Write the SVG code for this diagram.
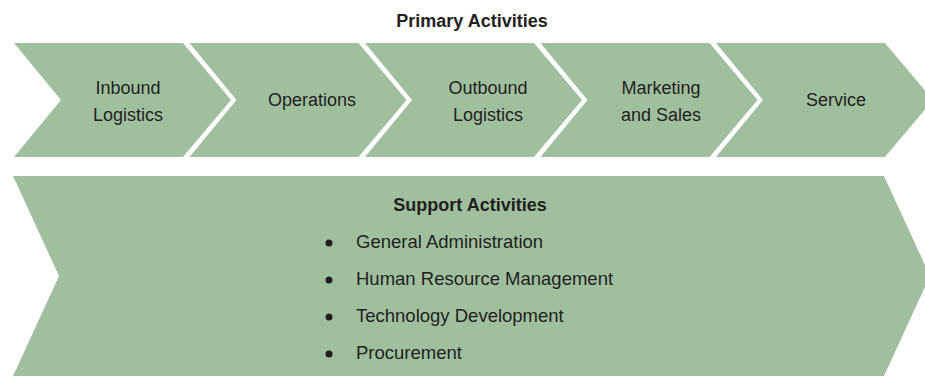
<svg xmlns="http://www.w3.org/2000/svg" width="925" height="376" viewBox="0 0 925 376">
<style>
.shape{fill:#a0bf9f;}
text{font-family:"Liberation Sans",Arial,sans-serif;fill:#231f20;}
.lbl{font-size:18px;text-anchor:middle;}
.hdr{font-size:18px;font-weight:bold;text-anchor:middle;}
.item{font-size:18.5px;}
.dot{fill:#231f20;}
</style>
<rect width="925" height="376" fill="#ffffff"/>
<g id="title"><text class="hdr" x="472" y="27">Primary Activities</text></g>
<g id="inbound">
<polygon class="shape" points="14,43 183,43 231,100 183,157 14,157 61,100"/>
<text class="lbl" x="128" y="94">Inbound</text>
<text class="lbl" x="128" y="121">Logistics</text>
</g>
<g id="operations">
<polygon class="shape" points="189.5,43 358.5,43 406.5,100 358.5,157 189.5,157 236.5,100"/>
<text class="lbl" x="312" y="106">Operations</text>
</g>
<g id="outbound">
<polygon class="shape" points="365,43 534,43 582,100 534,157 365,157 412,100"/>
<text class="lbl" x="488" y="94">Outbound</text>
<text class="lbl" x="488" y="121">Logistics</text>
</g>
<g id="marketing">
<polygon class="shape" points="540.5,43 709.5,43 757.5,100 709.5,157 540.5,157 587.5,100"/>
<text class="lbl" x="661" y="94">Marketing</text>
<text class="lbl" x="661" y="121">and Sales</text>
</g>
<g id="service">
<polygon class="shape" points="716,43 885,43 933,100 885,157 716,157 763,100"/>
<text class="lbl" x="836" y="106">Service</text>
</g>
<g id="support">
<polygon class="shape" points="13,176 884,176 930,276 884,376 13,376 59,276"/>
<text class="hdr" x="470" y="211">Support Activities</text>
<circle class="dot" cx="329" cy="243" r="3.5"/>
<text class="item" x="356" y="248">General Administration</text>
<circle class="dot" cx="329" cy="280" r="3.5"/>
<text class="item" x="356" y="285">Human Resource Management</text>
<circle class="dot" cx="329" cy="317" r="3.5"/>
<text class="item" x="356" y="322">Technology Development</text>
<circle class="dot" cx="329" cy="354" r="3.5"/>
<text class="item" x="356" y="358.5">Procurement</text>
</g>
<g id="connectors"></g>
</svg>
